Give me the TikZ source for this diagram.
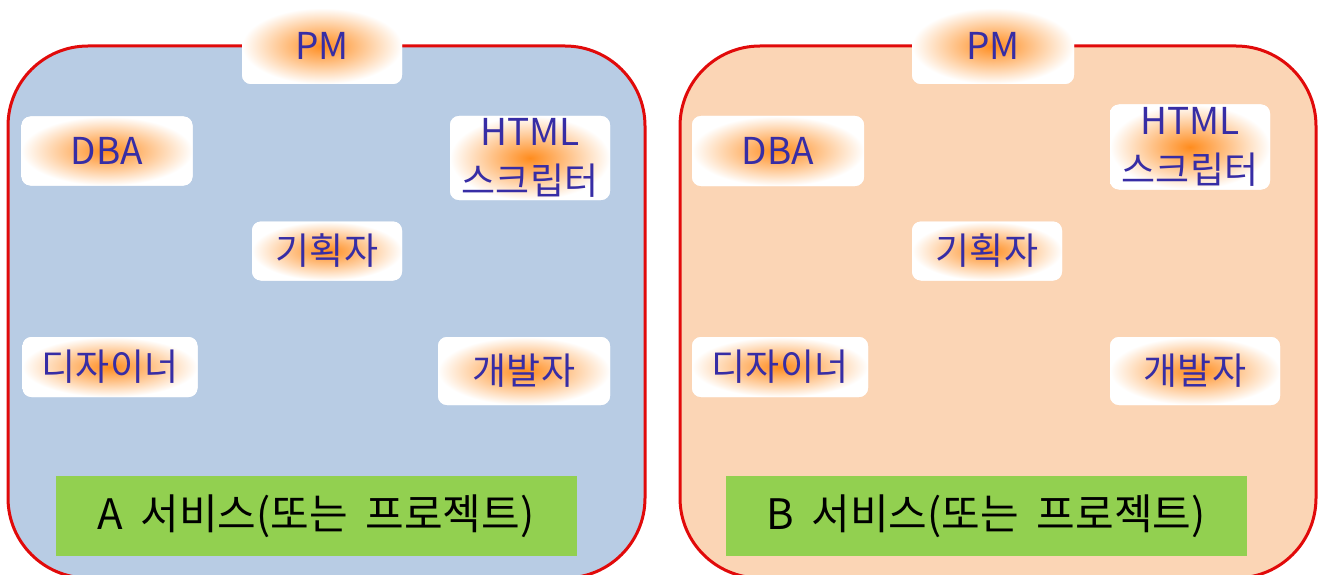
\documentclass[tikz,border=0pt]{standalone}
\usepackage{fontspec}
\setmainfont{Noto Sans CJK KR}
\definecolor{panelA}{RGB}{184,204,228}
\definecolor{panelB}{RGB}{251,213,181}
\definecolor{rim}{RGB}{225,10,10}
\definecolor{barfill}{RGB}{146,208,80}
\definecolor{ink}{RGB}{55,45,165}
\definecolor{glow}{RGB}{255,140,30}
\newcommand{\barfont}{\fontsize{42}{46}\selectfont\spaceskip=0.42em\relax}
\begin{document}
\begin{tikzpicture}[x=1pt,y=-1pt,
  panel/.style={draw=rim, line width=3pt, rounded corners=80pt},
  role/.style={fill=white, rounded corners=9pt, inner sep=0pt, text=ink,
    font=\fontsize{37}{49}\selectfont, align=center,
    path picture={\shade[inner color=glow, outer color=white]
      (path picture bounding box.south west) rectangle (path picture bounding box.north east);}},
  titlebar/.style={fill=barfill, inner sep=0pt, minimum width=521pt, minimum height=80pt,
    text=black, font=\barfont}]
\useasboundingbox (0,0) rectangle (1322,575);
% panels
\draw[panel, fill=panelA] (8,46) rectangle (645,578);
\draw[panel, fill=panelB] (680,46) rectangle (1316,578);
% panel A roles
\node[role, minimum width=160pt, minimum height=76pt] (pmA) at (322,46) {PM};
\node[role, minimum width=171pt, minimum height=69pt] (dbaA) at (107,151) {DBA};
\node[role, minimum width=160pt, minimum height=84pt] (htmlA) at (530,158) {HTML\\스크립터};
\node[role, minimum width=150pt, minimum height=59pt] (planA) at (327,251) {기획자};
\node[role, minimum width=175pt, minimum height=60pt] (desA) at (110,367) {디자이너};
\node[role, minimum width=172pt, minimum height=68pt] (devA) at (524,371) {개발자};
\node[titlebar] (barA) at (316,516) {A 서비스(또는 프로젝트)};
% panel B roles
\node[role, minimum width=162pt, minimum height=76pt] (pmB) at (993,46) {PM};
\node[role, minimum width=172pt, minimum height=70pt] (dbaB) at (778,151) {DBA};
\node[role, minimum width=160pt, minimum height=85pt] (htmlB) at (1190,147) {HTML\\스크립터};
\node[role, minimum width=150pt, minimum height=59pt] (planB) at (987,251) {기획자};
\node[role, minimum width=176pt, minimum height=60pt] (desB) at (780,367) {디자이너};
\node[role, minimum width=170pt, minimum height=68pt] (devB) at (1195,371) {개발자};
\node[titlebar] (barB) at (986,516) {B 서비스(또는 프로젝트)};
\end{tikzpicture}
\end{document}
